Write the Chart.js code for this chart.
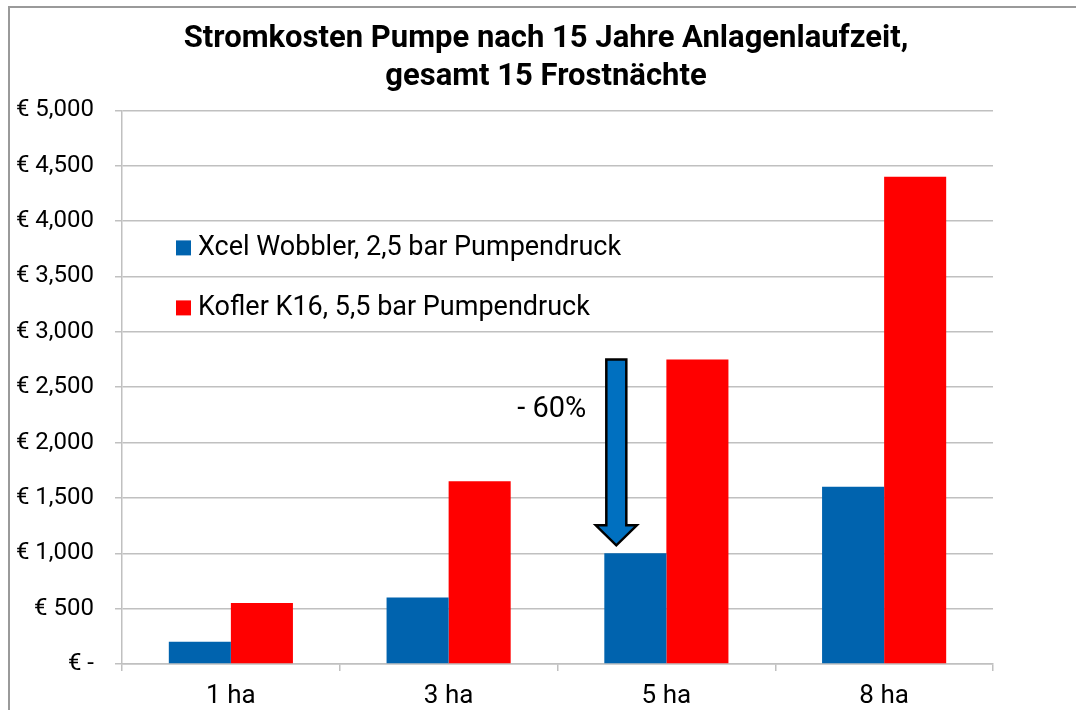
<!DOCTYPE html>
<html>
<head>
<meta charset="utf-8">
<script src="https://cdn.jsdelivr.net/npm/chart.js@4.4.1/dist/chart.umd.min.js"></script>
<style>
  html, body { margin: 0; padding: 0; background: #fff; }
  #wrap { position: relative; width: 1076px; height: 710px; overflow: hidden; }
  #frame { position: absolute; left: 8px; top: 6px; width: 2000px; height: 2000px;
           border-top: 2px solid #9a9a9a; border-left: 2px solid #9a9a9a; }
  canvas { position: absolute; left: 0; top: 0; }
</style>
</head>
<body>
<div id="wrap">
  <div id="frame"></div>
  <canvas id="c" width="1076" height="710"></canvas>
</div>
<script>
const titleLines = ['Stromkosten Pumpe nach 15 Jahre Anlagenlaufzeit,', 'gesamt 15 Frostnächte'];
const categories = ['1 ha', '3 ha', '5 ha', '8 ha'];
const seriesNames = ['Xcel Wobbler, 2,5 bar Pumpendruck', 'Kofler K16, 5,5 bar Pumpendruck'];
const xcelValues = [200, 600, 1000, 1600];
const koflerValues = [550, 1650, 2750, 4400];
const yTicks = [0, 500, 1000, 1500, 2000, 2500, 3000, 3500, 4000, 4500, 5000];
const annotationText = '- 60%';
const annotationFrom = 2750;
const annotationTo = 1000;

const BLUE = '#0063AE';
const RED = '#FF0000';
const GRID = '#c0c0c0';

const overlayPlugin = {
  id: 'overlay',
  afterDraw(chart) {
    const ctx = chart.ctx;
    const area = chart.chartArea;
    // legend inside plot
    ctx.save();
    ctx.font = '27px Roboto';
    ctx.textBaseline = 'middle';
    ctx.textAlign = 'left';
    chart.data.datasets.forEach((ds, i) => {
      const y = area.top + 137 + i * 60;
      ctx.fillStyle = ds.backgroundColor;
      ctx.fillRect(area.left + 54, y - 7, 15, 15);
      ctx.fillStyle = '#000';
      ctx.fillText(ds.label, area.left + 76, y + 1);
    });
    ctx.restore();

    // arrow annotation at 5 ha
    const meta = chart.getDatasetMeta(0);
    const bar = meta.data[2];
    const yS = chart.scales.y;
    const cx = bar.x - bar.width / 2 + 12;
    const top = yS.getPixelForValue(annotationFrom);
    const tip = yS.getPixelForValue(annotationTo) - 8;
    const headStart = tip - 20;
    const sw = 10, hw = 20.5;
    ctx.save();
    ctx.beginPath();
    ctx.moveTo(cx - sw, top);
    ctx.lineTo(cx + sw, top);
    ctx.lineTo(cx + sw, headStart);
    ctx.lineTo(cx + hw, headStart);
    ctx.lineTo(cx, tip);
    ctx.lineTo(cx - hw, headStart);
    ctx.lineTo(cx - sw, headStart);
    ctx.closePath();
    ctx.fillStyle = '#0070C0';
    ctx.fill();
    ctx.lineWidth = 2.5;
    ctx.strokeStyle = '#000';
    ctx.lineJoin = 'miter';
    ctx.stroke();
    ctx.font = '29px Roboto';
    ctx.fillStyle = '#000';
    ctx.textAlign = 'right';
    ctx.textBaseline = 'middle';
    ctx.fillText(annotationText, cx - 30, yS.getPixelForValue(2300));
    ctx.restore();
  }
};

new Chart(document.getElementById('c'), {
  type: 'bar',
  data: {
    labels: categories,
    datasets: [
      { label: seriesNames[0], data: xcelValues, backgroundColor: BLUE, borderWidth: 0 },
      { label: seriesNames[1], data: koflerValues, backgroundColor: RED, borderWidth: 0 }
    ]
  },
  options: {
    responsive: false,
    animation: false,
    layout: { padding: { left: 99, right: 83, top: 0, bottom: 0 } },
    plugins: {
      legend: { display: false },
      tooltip: { enabled: false },
      title: {
        display: true,
        text: titleLines,
        color: '#000',
        font: { family: 'Roboto', size: 31, weight: 'bold', lineHeight: 1.2 },
        padding: { top: 21, bottom: 15 }
      }
    },
    datasets: { bar: { categoryPercentage: 0.57, barPercentage: 1.0 } },
    scales: {
      x: {
        grid: { drawOnChartArea: false, drawTicks: true, tickLength: 7, color: GRID, lineWidth: 1.5, offset: true },
        border: { display: true, color: GRID, width: 1.5 },
        ticks: { color: '#000', font: { family: 'Roboto', size: 26 }, padding: 10 },
        afterFit(scale) { scale.height = 46; }
      },
      y: {
        min: 0, max: 5000,
        afterBuildTicks(scale) { scale.ticks = yTicks.map(v => ({ value: v })); },
        grid: { color: GRID, lineWidth: 1.5, tickLength: 7, drawTicks: true },
        border: { display: true, color: GRID, width: 1.5 },
        ticks: {
          color: '#000',
          font: { family: 'Roboto', size: 24 },
          padding: 21,
          callback(v) { return v === 0 ? '€ -' : '€ ' + v.toLocaleString('en-US'); }
        },
        afterFit(scale) {
          scale.width = 23;
          // let the tick labels extend left of the narrow scale box without clipping
          scale._computeLabelArea = function () { return undefined; };
        }
      }
    }
  },
  plugins: [overlayPlugin]
});
</script>
</body>
</html>
